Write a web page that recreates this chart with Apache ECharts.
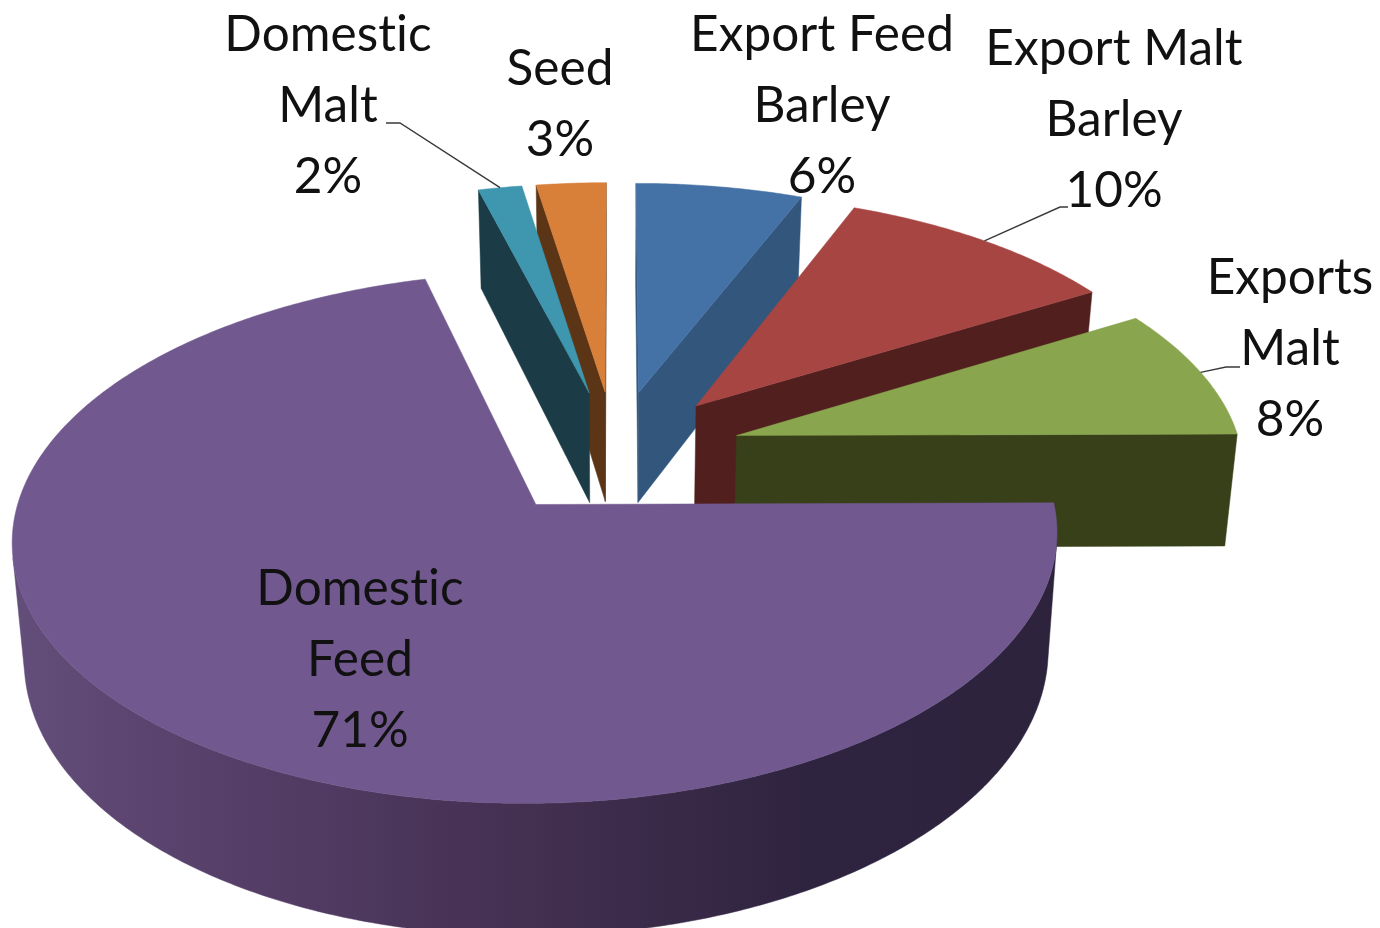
<!DOCTYPE html>
<html>
<head>
<meta charset="utf-8">
<style>html,body{margin:0;padding:0;background:#fff}#c{width:1380px;height:928px}</style>
<script src="https://cdn.jsdelivr.net/npm/echarts@6/dist/echarts.min.js"></script>
</head>
<body>
<div id="c"></div>
<script>
// ---- data ----
const categories = ['Export Feed\nBarley', 'Export Malt\nBarley', 'Exports\nMalt', 'Domestic\nFeed', 'Domestic\nMalt', 'Seed'];
const values = [6.1, 10.4, 8.4, 70.95, 1.6, 2.55];

// ---- styling ----
const topColors = ['#4471A6', '#A64542', '#89A54E', '#71588F', '#3F96AF', '#D8803A'];
const wallColors = ['#33567D', '#51201E', '#374019', '#2B2138', '#1B3C47', '#5B3516'];
const paintRank = [0, 3, 4, 5, 2, 1];
const explodeDepth = [0.25, 0.25, 0.25, 0.259, 0.25, 0.25];
const labelCentres = [[822, 106], [1114, 120], [1290, 349], [360, 660], [328, 106], [560, 104.5]];
const leaderElbows = [null, [[1060, 207], [1068, 207]], [[1226, 367], [1240, 367]], null, [[400, 123], [386, 123]], null];
const purpleWallStops = [
  { offset: 0, color: '#644E7B' }, { offset: 0.21, color: '#523C64' },
  { offset: 0.39, color: '#432F50' }, { offset: 0.58, color: '#2F2440' }, { offset: 1, color: '#2B2138' }
];

// Lato's "ti" ligature is not in the reference; a tiny letter spacing turns ligatures off
const nativeFillText = CanvasRenderingContext2D.prototype.fillText;
CanvasRenderingContext2D.prototype.fillText = function (...args) {
  this.letterSpacing = '0.05px';
  return nativeFillText.apply(this, args);
};

// ---- 3D view of the pie plane (unit radius) ----
const view = { cx: 615, horizon: -1583, scale: 508.75, persp: 0.1221, explode: 0.25, rimX: 0.993, depth: 0.222, taper: 0.98 };
function project(api, X, Y, low) {
  const s = view.scale / (1 + view.persp * Y);
  const y = view.horizon + 4 * s + (low ? view.depth * s : 0);
  const x = view.cx + X * s * (low ? view.taper : 1);
  return api.coord([x, y]);
}
const total = values.reduce((a, b) => a + b, 0);
const spans = [];
values.reduce((acc, v) => { const e = acc + v / total * 2 * Math.PI; spans.push([acc, e]); return e; }, 0);
function area(p) {
  let a = 0;
  for (let i = 0; i < p.length; i++) { const q = p[(i + 1) % p.length]; a += p[i][0] * q[1] - q[0] * p[i][1]; }
  return a;
}

function renderItem(params, api) {
  const i = params.dataIndex, z2 = paintRank[i] * 2;
  const [a0, a1] = spans[i], mid = (a0 + a1) / 2;
  const ax = view.explode * Math.sin(mid), ay = explodeDepth[i] * Math.cos(mid);
  const n = Math.max(2, Math.ceil((a1 - a0) / 0.01));
  const rim = k => { const t = a0 + (a1 - a0) * k / n; return [ax + view.rimX * Math.sin(t), ay + Math.cos(t)]; };
  const children = [];
  const poly = (points, fill, z) => children.push({ type: 'polygon', z2: z, shape: { points }, style: { fill, stroke: fill, lineWidth: 0.5 } });
  const apexT = project(api, ax, ay, false), apexB = project(api, ax, ay, true);

  // cut faces
  const rS = rim(0), rE = rim(n);
  const startFace = [apexT, project(api, rS[0], rS[1], false), project(api, rS[0], rS[1], true), apexB];
  const endFace = [apexT, project(api, rE[0], rE[1], false), project(api, rE[0], rE[1], true), apexB];
  if (area(startFace) < 0) poly(startFace, wallColors[i], z2);
  if (area(endFace) > 0) poly(endFace, wallColors[i], z2);

  // outer curved wall: keep only the part that faces the viewer
  const upper = [], lower = [];
  for (let k = 0; k < n; k++) {
    const p = rim(k), q = rim(k + 1);
    const quad = [project(api, p[0], p[1], false), project(api, q[0], q[1], false), project(api, q[0], q[1], true), project(api, p[0], p[1], true)];
    if (area(quad) < 0) {
      if (!upper.length) { upper.push(quad[0]); lower.push(quad[3]); }
      upper.push(quad[1]); lower.push(quad[2]);
    }
  }
  if (upper.length) {
    const size = api.getWidth();
    const fill = i === 3 ? new echarts.graphic.LinearGradient(0, 0, size, 0, purpleWallStops, true) : wallColors[i];
    poly(upper.concat(lower.reverse()), fill, z2);
  }

  // top face
  const top = [apexT];
  for (let k = 0; k <= n; k++) { const p = rim(k); top.push(project(api, p[0], p[1], false)); }
  poly(top, topColors[i], z2 + 1);

  // leader line from the middle of the rim
  if (leaderElbows[i]) {
    const mx = ax + view.rimX * Math.sin(mid), my = ay + Math.cos(mid);
    const pts = [project(api, mx, my, false)].concat(leaderElbows[i].map(e => api.coord(e)));
    children.push({ type: 'polyline', z2: 40, shape: { points: pts }, style: { fill: null, stroke: '#3a3a3a', lineWidth: 1.4 } });
  }

  // label
  const c = api.coord(labelCentres[i]);
  children.push({
    type: 'text', z2: 50, x: c[0], y: c[1],
    style: {
      text: categories[i] + '\n' + Math.round(values[i] / total * 100) + '%',
      fontFamily: 'Lato', fontSize: 49.5, lineHeight: 71, fill: '#111111',
      align: 'center', verticalAlign: 'middle'
    }
  });
  return { type: 'group', children };
}

const chart = echarts.init(document.getElementById('c'), null, { renderer: 'canvas' });
chart.setOption({
  animation: false,
  backgroundColor: '#ffffff',
  grid: { left: 0, right: 0, top: 0, bottom: 0 },
  xAxis: { type: 'value', min: 0, max: 1380, show: false },
  yAxis: { type: 'value', min: 0, max: 928, inverse: true, show: false },
  series: [{
    type: 'custom', clip: false, silent: true,
    renderItem,
    encode: { x: 0, y: 1 },
    data: values.map((v, i) => [i, v])
  }]
});
</script>
</body>
</html>
